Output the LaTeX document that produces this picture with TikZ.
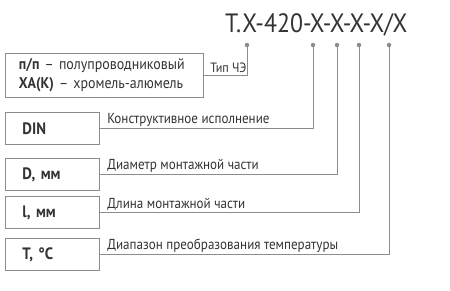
\documentclass[tikz,border=0pt]{standalone}
\usepackage{fontspec}
\setmainfont{PT Sans}[FakeStretch=0.9]
\usetikzlibrary{positioning}
\definecolor{txt}{HTML}{333333}
\definecolor{ln}{HTML}{8C8C8C}

\begin{document}
\begin{tikzpicture}[
  x=1pt,y=-1pt,
  box/.style={draw=ln,line width=0.9pt,anchor=north west,inner xsep=17pt,inner ysep=0pt,
    align=left,text=txt,font=\fontsize{16.5}{20}\selectfont},
  conn/.style={draw=ln,line width=0.9pt},
  dot/.style={circle,fill=ln,inner sep=0pt,minimum size=4.5pt},
  lbl/.style={anchor=south west,xshift=5pt,inner sep=2pt,text=txt,font=\fontsize{14.5}{16}\selectfont}
]
  \useasboundingbox (0,0) rectangle (450,290);
  \node[anchor=base west,inner sep=0pt,text=txt,font=\fontsize{26.5}{30}\selectfont] (code) at (225,32) {Т.Х-420-Х-Х-Х-Х/Х};
  % points under the code
  \node[dot] (p1) at (247,45) {};
  \node[dot] (p2) at (313,45) {};
  \node[dot] (p3) at (337,45) {};
  \node[dot] (p4) at (359,45) {};
  \node[dot] (p5) at (389,45) {};
  % boxes
  \node[box,text width=171pt,inner xsep=13.5pt,minimum height=44pt,font=\fontsize{15.5}{19}\selectfont] (sens) at (5,53)
    {\textbf{п/п} – полупроводниковый\\\textbf{ХА(К)} – хромель-алюмель};
  \node[box,text width=60pt,minimum height=32pt] (din) at (5,112) {\textbf{DIN}};
  \node[box,text width=60pt,minimum height=32pt] (diam) at (5,158) {\textbf{D, мм}};
  \node[box,text width=60pt,minimum height=32pt] (len) at (5,196) {\textbf{l, мм}};
  \node[box,text width=60pt,minimum height=32pt] (temp) at (5,238) {\textbf{T, °C}};
  % connectors
  \draw[conn] (sens.east) node[lbl,xshift=-1pt,font=\fontsize{13.5}{15}\selectfont] {Тип ЧЭ} -| (p1);
  \draw[conn] (din.east) node[lbl] {Конструктивное исполнение} -| (p2);
  \draw[conn] (diam.east) node[lbl] {Диаметр монтажной части} -| (p3);
  \draw[conn] (len.east) node[lbl] {Длина монтажной части} -| (p4);
  \draw[conn] (temp.east) node[lbl] {Диапазон преобразования температуры} -| (p5);
\end{tikzpicture}
\end{document}
